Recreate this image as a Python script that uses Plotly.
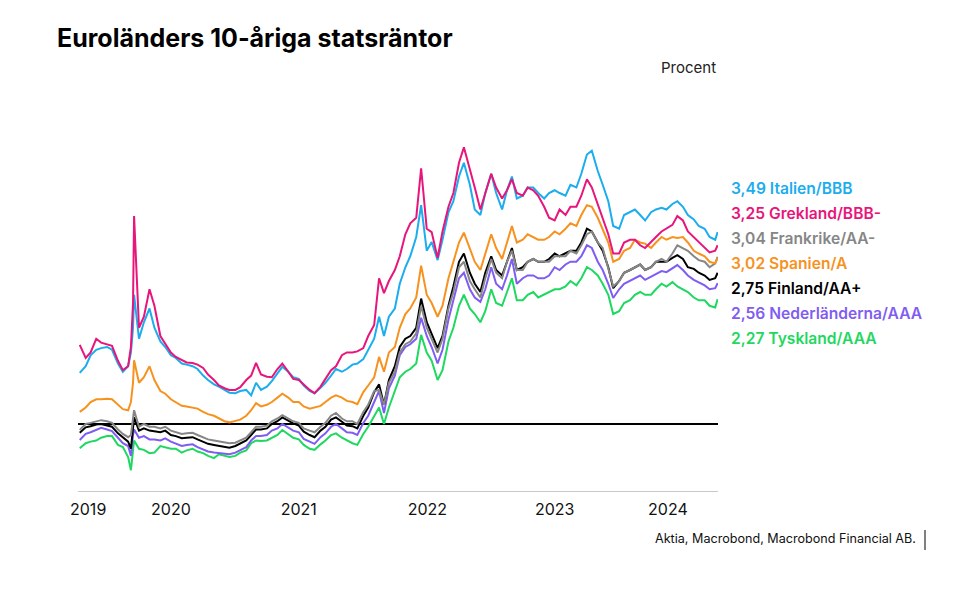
import plotly.graph_objects as go

dates = [
    "2019-10-15", "2019-11-01", "2019-11-15", "2019-12-01", "2019-12-15",
    "2020-01-01", "2020-01-15", "2020-02-01", "2020-02-15", "2020-03-01", "2020-03-09", "2020-03-15", "2020-03-18",
    "2020-04-01", "2020-04-15", "2020-05-01", "2020-05-15", "2020-06-01", "2020-06-15", "2020-07-01", "2020-07-15",
    "2020-08-01", "2020-08-15", "2020-09-01", "2020-09-15", "2020-10-01", "2020-10-15", "2020-11-01", "2020-11-15",
    "2020-12-01", "2020-12-15",
    "2021-01-01", "2021-01-15", "2021-02-01", "2021-02-15", "2021-03-01", "2021-03-15", "2021-04-01", "2021-04-15",
    "2021-05-01", "2021-05-15", "2021-06-01", "2021-06-15", "2021-07-01", "2021-07-15", "2021-08-01", "2021-08-15",
    "2021-09-01", "2021-09-15", "2021-10-01", "2021-10-15", "2021-11-01", "2021-11-15", "2021-12-01", "2021-12-15",
    "2022-01-01", "2022-01-15", "2022-02-01", "2022-02-15", "2022-03-01", "2022-03-15", "2022-04-01", "2022-04-15",
    "2022-05-01", "2022-05-15", "2022-06-01", "2022-06-15", "2022-07-01", "2022-07-15", "2022-08-01", "2022-08-15",
    "2022-09-01", "2022-09-15", "2022-10-01", "2022-10-15", "2022-11-01", "2022-11-15", "2022-12-01", "2022-12-15",
    "2023-01-01", "2023-01-15", "2023-02-01", "2023-02-15", "2023-03-01", "2023-03-15", "2023-04-01", "2023-04-15",
    "2023-05-01", "2023-05-15", "2023-06-01", "2023-06-15", "2023-07-01", "2023-07-15", "2023-08-01", "2023-08-15",
    "2023-09-01", "2023-09-15", "2023-10-01", "2023-10-15", "2023-11-01", "2023-11-15", "2023-12-01", "2023-12-15",
    "2024-01-01", "2024-01-15", "2024-02-01", "2024-02-15", "2024-03-01", "2024-03-15", "2024-04-01", "2024-04-15",
    "2024-05-01", "2024-05-15", "2024-06-01", "2024-06-15", "2024-07-01", "2024-07-15", "2024-08-01", "2024-08-15",
    "2024-09-01", "2024-09-15", "2024-10-01", "2024-10-08",
]

italien = [
    0.93, 1.05, 1.25, 1.35, 1.38,
    1.40, 1.35, 1.10, 0.95, 1.05, 1.30, 1.75, 2.35,
    1.55, 1.85, 2.10, 1.75, 1.50, 1.40, 1.25, 1.20, 1.10, 1.08, 1.05, 1.00, 0.88, 0.80, 0.72, 0.68, 0.62, 0.57,
    0.56, 0.60, 0.62, 0.52, 0.75, 0.62, 0.68, 0.78, 0.92, 1.04, 0.95, 0.85, 0.82, 0.70, 0.60, 0.56,
    0.66, 0.75, 0.88, 1.00, 0.95, 1.00, 1.08, 1.10,
    1.18, 1.35, 1.55, 1.95, 1.60, 1.95, 2.10, 2.55, 2.85, 3.05, 3.40, 3.98, 3.15, 3.31, 2.98, 3.35,
    3.85, 4.05, 4.50, 4.75, 4.35, 3.90, 3.80, 4.20,
    4.55, 4.20, 3.90, 4.25, 4.50, 4.10, 4.15, 4.30, 4.30, 4.20, 4.10, 4.20, 4.25, 4.20, 4.15, 4.35,
    4.30, 4.55, 4.90, 4.97, 4.60, 4.35, 4.05, 3.60,
    3.55, 3.80, 3.85, 3.90, 3.80, 3.70, 3.85, 3.90, 3.93, 3.90, 4.00, 4.05, 3.95, 3.80, 3.72, 3.60,
    3.55, 3.40, 3.35, 3.49,
]

grekland = [
    1.44, 1.20, 1.30, 1.55, 1.48,
    1.45, 1.42, 1.15, 0.98, 1.05, 1.40, 2.20, 3.78,
    1.75, 1.95, 2.45, 2.15, 1.60, 1.45, 1.30, 1.22, 1.16, 1.12, 1.11, 1.08, 1.02, 0.90, 0.80, 0.70, 0.65, 0.62,
    0.62, 0.67, 0.80, 0.88, 1.11, 0.90, 0.86, 0.85, 1.00, 1.10, 0.95, 0.82, 0.80, 0.72, 0.62, 0.56,
    0.68, 0.82, 0.98, 1.05, 1.25, 1.30, 1.30, 1.32,
    1.38, 1.60, 1.80, 2.65, 2.38, 2.60, 2.80, 3.05, 3.45, 3.65, 3.75, 4.65, 3.55, 3.49, 3.02, 3.50,
    3.95, 4.20, 4.75, 5.03, 4.60, 4.30, 3.90, 4.20,
    4.55, 4.30, 4.10, 4.25, 4.45, 4.20, 4.15, 4.30, 4.25, 4.15, 3.95, 3.75, 3.70, 3.90, 3.80, 3.95,
    3.95, 4.15, 4.45, 4.30, 4.00, 3.75, 3.45, 3.10,
    3.10, 3.30, 3.35, 3.35, 3.25, 3.20, 3.30, 3.40, 3.50, 3.55, 3.62, 3.78, 3.70, 3.50, 3.40, 3.30,
    3.20, 3.12, 3.15, 3.25,
]

frankrike = [
    -0.11, 0.00, 0.02, 0.05, 0.07,
    0.05, 0.02, -0.10, -0.18, -0.24, -0.20, 0.10, 0.25,
    -0.05, 0.00, -0.05, -0.05, -0.08, -0.05, -0.12, -0.15, -0.18, -0.17, -0.16, -0.20, -0.24, -0.28, -0.30, -0.32, -0.33, -0.35,
    -0.34, -0.30, -0.25, -0.15, -0.05, -0.05, -0.03, 0.05, 0.10, 0.16, 0.10, 0.05, 0.02, -0.08, -0.12, -0.15,
    -0.05, 0.02, 0.15, 0.20, 0.10, 0.05, 0.05, 0.00,
    0.22, 0.35, 0.60, 0.62, 0.35, 0.75, 0.95, 1.30, 1.45, 1.50, 1.65, 2.15, 1.75, 1.55, 1.30, 1.55,
    2.10, 2.40, 2.85, 2.95, 2.60, 2.45, 2.30, 2.65,
    3.00, 2.75, 2.65, 2.95, 3.15, 2.80, 2.80, 2.95, 3.00, 2.95, 2.95, 2.95, 3.05, 3.05, 3.05, 3.15,
    3.10, 3.25, 3.45, 3.50, 3.30, 3.20, 2.85, 2.50,
    2.60, 2.75, 2.80, 2.85, 2.90, 2.80, 2.85, 2.95, 3.00, 2.95, 3.10, 3.25, 3.20, 3.15, 3.05, 2.98,
    2.95, 2.85, 2.92, 3.04,
]

spanien = [
    0.22, 0.30, 0.40, 0.45, 0.45,
    0.46, 0.45, 0.35, 0.27, 0.25, 0.40, 0.75, 1.16,
    0.75, 0.85, 1.05, 0.80, 0.60, 0.55, 0.45, 0.40, 0.33, 0.32, 0.30, 0.28, 0.22, 0.18, 0.15, 0.10, 0.05, 0.03,
    0.05, 0.08, 0.15, 0.25, 0.38, 0.32, 0.35, 0.40, 0.48, 0.55, 0.48, 0.40, 0.40, 0.32, 0.28, 0.30,
    0.33, 0.40, 0.48, 0.52, 0.48, 0.42, 0.40, 0.36,
    0.58, 0.70, 0.85, 1.22, 0.95, 1.30, 1.40, 1.75, 2.00, 2.10, 2.30, 2.88, 2.35, 2.20, 1.95, 2.15,
    2.65, 2.95, 3.30, 3.48, 3.20, 2.95, 2.80, 3.10,
    3.45, 3.20, 3.00, 3.30, 3.60, 3.30, 3.35, 3.45, 3.40, 3.35, 3.35, 3.40, 3.50, 3.45, 3.55, 3.65,
    3.60, 3.80, 3.98, 3.95, 3.75, 3.55, 3.30, 2.95,
    3.00, 3.15, 3.20, 3.35, 3.30, 3.28, 3.20, 3.30, 3.40, 3.35, 3.40, 3.38, 3.40, 3.30, 3.15, 3.10,
    3.05, 2.95, 2.92, 3.02,
]

finland = [
    -0.16, -0.06, -0.04, -0.01, 0.00,
    -0.02, -0.05, -0.17, -0.25, -0.32, -0.45, -0.05, 0.12,
    -0.12, -0.08, -0.12, -0.13, -0.15, -0.12, -0.20, -0.22, -0.26, -0.25, -0.24, -0.28, -0.32, -0.36, -0.38, -0.40, -0.41, -0.43,
    -0.40, -0.36, -0.30, -0.20, -0.10, -0.10, -0.08, 0.00, 0.05, 0.12, 0.06, 0.01, -0.03, -0.14, -0.20, -0.24,
    -0.12, -0.05, 0.08, 0.12, 0.04, -0.03, -0.04, -0.08,
    0.15, 0.30, 0.58, 0.72, 0.35, 0.80, 1.05, 1.40, 1.55, 1.60, 1.75, 2.28, 1.85, 1.65, 1.38, 1.60,
    2.15, 2.50, 2.95, 3.10, 2.75, 2.55, 2.40, 2.75,
    3.05, 2.80, 2.70, 2.95, 3.20, 2.80, 2.85, 2.95, 3.00, 2.95, 2.95, 3.00, 3.10, 3.05, 3.10, 3.15,
    3.15, 3.30, 3.55, 3.50, 3.30, 3.15, 2.85, 2.47,
    2.60, 2.75, 2.80, 2.85, 2.90, 2.80, 2.85, 2.95, 2.95, 2.95, 3.02, 3.07, 3.00, 2.85, 2.82, 2.75,
    2.70, 2.62, 2.65, 2.75,
]

nederlanderna = [
    -0.29, -0.18, -0.15, -0.10, -0.07,
    -0.10, -0.13, -0.25, -0.35, -0.40, -0.58, -0.20, -0.10,
    -0.25, -0.22, -0.28, -0.28, -0.30, -0.26, -0.32, -0.35, -0.40, -0.38, -0.37, -0.42, -0.46, -0.50, -0.52, -0.53, -0.54, -0.55,
    -0.52, -0.48, -0.42, -0.30, -0.22, -0.22, -0.20, -0.12, -0.08, 0.00, -0.06, -0.12, -0.15, -0.27, -0.32, -0.36,
    -0.24, -0.17, -0.05, 0.00, -0.08, -0.15, -0.16, -0.20,
    0.02, 0.15, 0.40, 0.60, 0.20, 0.65, 0.88, 1.25, 1.40, 1.45, 1.55, 1.93, 1.60, 1.40, 1.10, 1.35,
    1.90, 2.25, 2.65, 2.75, 2.45, 2.30, 2.22, 2.45,
    2.85, 2.55, 2.45, 2.70, 3.00, 2.55, 2.65, 2.70, 2.70, 2.65, 2.65, 2.70, 2.85, 2.80, 2.90, 2.95,
    2.95, 3.05, 3.25, 3.20, 2.95, 2.80, 2.55, 2.29,
    2.45, 2.55, 2.60, 2.65, 2.70, 2.62, 2.68, 2.72, 2.78, 2.76, 2.84, 2.89, 2.80, 2.70, 2.62, 2.58,
    2.52, 2.45, 2.47, 2.56,
]

tyskland = [
    -0.44, -0.35, -0.32, -0.30, -0.25,
    -0.22, -0.22, -0.38, -0.42, -0.60, -0.84, -0.45, -0.30,
    -0.45, -0.47, -0.53, -0.52, -0.40, -0.42, -0.45, -0.45, -0.52, -0.48, -0.45, -0.50, -0.53, -0.58, -0.62, -0.55, -0.57, -0.60,
    -0.58, -0.52, -0.48, -0.35, -0.30, -0.31, -0.30, -0.25, -0.20, -0.11, -0.18, -0.25, -0.28, -0.38, -0.45, -0.47,
    -0.37, -0.30, -0.20, -0.17, -0.25, -0.30, -0.35, -0.38,
    -0.18, -0.05, 0.15, 0.30, 0.00, 0.30, 0.60, 0.85, 0.95, 1.00, 1.10, 1.62, 1.30, 1.15, 0.80, 0.98,
    1.50, 1.75, 2.15, 2.35, 2.10, 2.00, 1.85, 2.05,
    2.45, 2.20, 2.15, 2.40, 2.65, 2.25, 2.25, 2.35, 2.40, 2.30, 2.35, 2.40, 2.45, 2.45, 2.50, 2.60,
    2.52, 2.65, 2.85, 2.80, 2.70, 2.55, 2.35, 2.00,
    2.05, 2.20, 2.25, 2.35, 2.40, 2.35, 2.35, 2.45, 2.55, 2.50, 2.58, 2.50, 2.45, 2.40, 2.30, 2.25,
    2.25, 2.15, 2.12, 2.27,
]

labels = [
    "3,49 Italien/BBB", "3,25 Grekland/BBB-", "3,04 Frankrike/AA-", "3,02 Spanien/A",
    "2,75 Finland/AA+", "2,56 Nederländerna/AAA", "2,27 Tyskland/AAA",
]
tick_dates = ["2019-11-08", "2020-07-01", "2021-07-01", "2022-07-03", "2023-07-01", "2024-05-19"]
tick_text = ["2019", "2020", "2021", "2022", "2023", "2024"]

C_IT, C_GR, C_FR, C_ES = "#1BADEE", "#E8157A", "#868686", "#F7921E"
C_FI, C_NL, C_DE = "#000000", "#7F5CF2", "#1FD860"

series = [
    ("Tyskland", tyskland, C_DE),
    ("Nederländerna", nederlanderna, C_NL),
    ("Finland", finland, C_FI),
    ("Frankrike", frankrike, C_FR),
    ("Spanien", spanien, C_ES),
    ("Italien", italien, C_IT),
    ("Grekland", grekland, C_GR),
]

fig = go.Figure()
for name, vals, col in series:
    fig.add_trace(go.Scatter(x=dates, y=vals, mode="lines", name=name,
                             line=dict(color=col, width=2), showlegend=False))

FONT = "Inter, Open Sans, sans-serif"
L, R, T, B = 78, 258, 100, 99
plot_w = 976 - L - R
plot_h = 590 - T - B

def px_to_paper_x(px):
    return (px - L) / plot_w

def px_to_paper_y(py):
    return (590 - B - py) / plot_h

label_colors = [C_IT, C_GR, C_FR, C_ES, C_FI, C_NL, C_DE]
annotations = []
for i, (txt, col) in enumerate(zip(labels, label_colors)):
    annotations.append(dict(
        text=txt, xref="paper", yref="paper", x=px_to_paper_x(729), y=px_to_paper_y(188 + 25 * i),
        xanchor="left", yanchor="middle", showarrow=False,
        font=dict(family=FONT, size=15.6, color=col, weight=600),
    ))

annotations.append(dict(text="Procent", xref="paper", yref="paper", x=1.0, y=px_to_paper_y(68),
                        xanchor="right", yanchor="middle", showarrow=False,
                        font=dict(family=FONT, size=15, color="#222222")))
annotations.append(dict(text="Aktia, Macrobond, Macrobond Financial AB.", xref="paper", yref="paper",
                        x=px_to_paper_x(918), y=px_to_paper_y(538), xanchor="right", yanchor="middle",
                        showarrow=False, font=dict(family=FONT, size=12.6, color="#111111")))

fig.update_layout(
    width=976, height=590,
    margin=dict(l=L, r=R, t=T, b=B),
    paper_bgcolor="white", plot_bgcolor="white",
    title=dict(text="<b>Euroländers 10-åriga statsräntor</b>", x=57 / 976, xanchor="left",
               y=1 - 38 / 590, yanchor="middle",
               font=dict(family=FONT, size=25, color="#000000")),
    annotations=annotations,
    shapes=[dict(type="line", xref="paper", yref="paper",
                 x0=px_to_paper_x(925), x1=px_to_paper_x(925),
                 y0=px_to_paper_y(530), y1=px_to_paper_y(550),
                 line=dict(color="#000000", width=1))],
    xaxis=dict(range=["2019-10-10", "2024-10-09"], showgrid=False, zeroline=False,
               showline=True, linecolor="#c8c8c8", linewidth=1,
               tickmode="array", tickvals=tick_dates, ticktext=tick_text, ticks="",
               ticklabelstandoff=4,
               tickfont=dict(family=FONT, size=16, color="#111111")),
    yaxis=dict(range=[-1.2182, 5.8909], showgrid=False, showticklabels=False, ticks="",
               zeroline=True, zerolinecolor="#000000", zerolinewidth=2, showline=False),
)

fig.write_html("out.html", config={"displayModeBar": False},
               post_script="document.body.style.margin='0';")
